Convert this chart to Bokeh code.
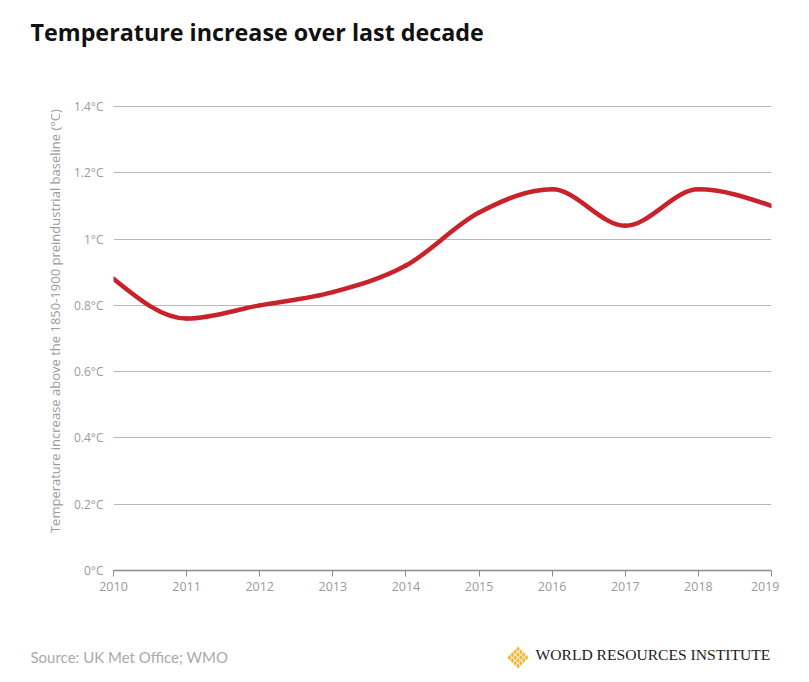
import numpy as np
from bokeh.plotting import figure
from bokeh.layouts import column
from bokeh.models import Range1d, FixedTicker, CustomJSTickFormatter
from bokeh.core.properties import value
from bokeh.embed import file_html
from bokeh.resources import INLINE

# ---- data ----
years = [2010, 2011, 2012, 2013, 2014, 2015, 2016, 2017, 2018, 2019]
temp_increase = [0.88, 0.76, 0.80, 0.84, 0.92, 1.08, 1.15, 1.04, 1.15, 1.10]
y_ticks = [0, 0.2, 0.4, 0.6, 0.8, 1.0, 1.2, 1.4]

title_text = "Temperature increase over last decade"
y_title = "Temperature increase above the 1850-1900 preindustrial baseline (°C)"
source_text = "Source: UK Met Office; WMO"
org_text = "WORLD RESOURCES INSTITUTE"

RED = "#C9222A"
GREY_TXT = "#9a9a9a"
LOGO_YELLOW = "#F4B433"
W = 779

# ---- monotone-x cubic (as d3.curveMonotoneX) bezier segments ----
x = np.array(years, dtype=float)
y = np.array(temp_increase, dtype=float)
n = len(x)
h = np.diff(x)
s = np.diff(y) / h
t = np.zeros(n)
for i in range(1, n - 1):
    h0, h1 = h[i - 1], h[i]
    s0, s1 = s[i - 1], s[i]
    pp = (s0 * h1 + s1 * h0) / (h0 + h1)
    t[i] = (np.sign(s0) + np.sign(s1)) * min(abs(s0), abs(s1), 0.5 * abs(pp))
t[0] = (3 * s[0] - t[1]) / 2
t[-1] = (3 * s[-1] - t[-2]) / 2
dx = h / 3.0
x0, y0 = x[:-1], y[:-1]
x1, y1 = x[1:], y[1:]
cx0, cy0 = x0 + dx, y0 + dx * t[:-1]
cx1, cy1 = x1 - dx, y1 - dx * t[1:]


def blank_fig(height):
    f = figure(width=W, height=height, output_backend="svg", toolbar_location=None,
               x_range=Range1d(0, W), y_range=Range1d(0, height),
               x_axis_location=None, y_axis_location=None,
               min_border=0, frame_align=False)
    f.outline_line_color = None
    f.grid.visible = False
    f.background_fill_color = "white"
    f.border_fill_color = "white"
    return f


# ---- header ----
HH = 60
head = blank_fig(HH)
head.text(x=[30], y=[HH - 31], text=[title_text], text_font=value("Open Sans"),
          text_font_style="bold", text_font_size="23.3px", text_color="#111111",
          text_baseline="alphabetic", text_align="left")

# ---- main chart ----
MH = 540
p = figure(width=W, height=MH, output_backend="svg", toolbar_location=None,
           x_range=Range1d(2010, 2019), y_range=Range1d(0, 1.403),
           min_border_left=113, min_border_right=8,
           min_border_top=105 - HH, min_border_bottom=HH + MH - 570,
           frame_align=False)
p.outline_line_color = None
p.background_fill_color = "white"
p.border_fill_color = "white"

p.bezier(x0=x0, y0=y0, x1=x1, y1=y1, cx0=cx0, cy0=cy0, cx1=cx1, cy1=cy1,
         line_color=RED, line_width=4.5, line_cap="round")

p.xgrid.grid_line_color = None
p.ygrid.ticker = FixedTicker(ticks=y_ticks)
p.ygrid.grid_line_color = "#b8b8b8"
p.ygrid.grid_line_width = 1

p.yaxis.ticker = FixedTicker(ticks=y_ticks)
p.yaxis.formatter = CustomJSTickFormatter(code="return (Math.round(tick*10)/10) + '°C';")
p.yaxis.axis_line_color = None
p.yaxis.major_tick_line_color = None
p.yaxis.minor_tick_line_color = None
p.yaxis.major_label_standoff = 4
p.yaxis.major_label_text_font = "Open Sans"
p.yaxis.major_label_text_font_size = "12px"
p.yaxis.major_label_text_color = GREY_TXT
p.yaxis.axis_label = "\u00a0" * 10 + y_title
p.yaxis.axis_label_text_font = "Open Sans"
p.yaxis.axis_label_text_font_size = "13px"
p.yaxis.axis_label_text_font_style = "normal"
p.yaxis.axis_label_text_color = GREY_TXT
p.yaxis.axis_label_standoff = 7

p.xaxis.ticker = FixedTicker(ticks=years)
p.xaxis.axis_line_color = "#8c8c8c"
p.xaxis.axis_line_width = 1.5
p.xaxis.major_tick_line_color = "#8c8c8c"
p.xaxis.major_tick_out = 6
p.xaxis.major_tick_in = 0
p.xaxis.minor_tick_line_color = None
p.xaxis.major_label_standoff = 5
p.xaxis.major_label_text_font = "Open Sans"
p.xaxis.major_label_text_font_size = "12.5px"
p.xaxis.major_label_text_color = GREY_TXT

# ---- footer ----
FH = 80
foot = blank_fig(FH)
foot.text(x=[30], y=[FH - 56], text=[source_text], text_font=value("Lato"),
          text_font_size="15px", text_color="#aaaaaa", text_baseline="alphabetic")
# logo: lattice of small diamonds forming a larger diamond
lx, ly = [], []
for i in range(4):
    for j in range(4):
        lx.append(517.5 + (i - j) * 2.8)
        ly.append((FH - 57) + (i + j - 3) * 2.8)
foot.scatter(x=lx, y=ly, marker="diamond", size=6.5, fill_color=LOGO_YELLOW,
             line_color="white", line_width=0.6)
foot.text(x=[535], y=[FH - 54], text=[org_text], text_font=value("Liberation Serif"),
          text_font_size="15.6px", text_color="#222222", text_baseline="alphabetic")

layout = column(head, p, foot, spacing=0)
open("out.html", "w").write(file_html(layout, INLINE))
